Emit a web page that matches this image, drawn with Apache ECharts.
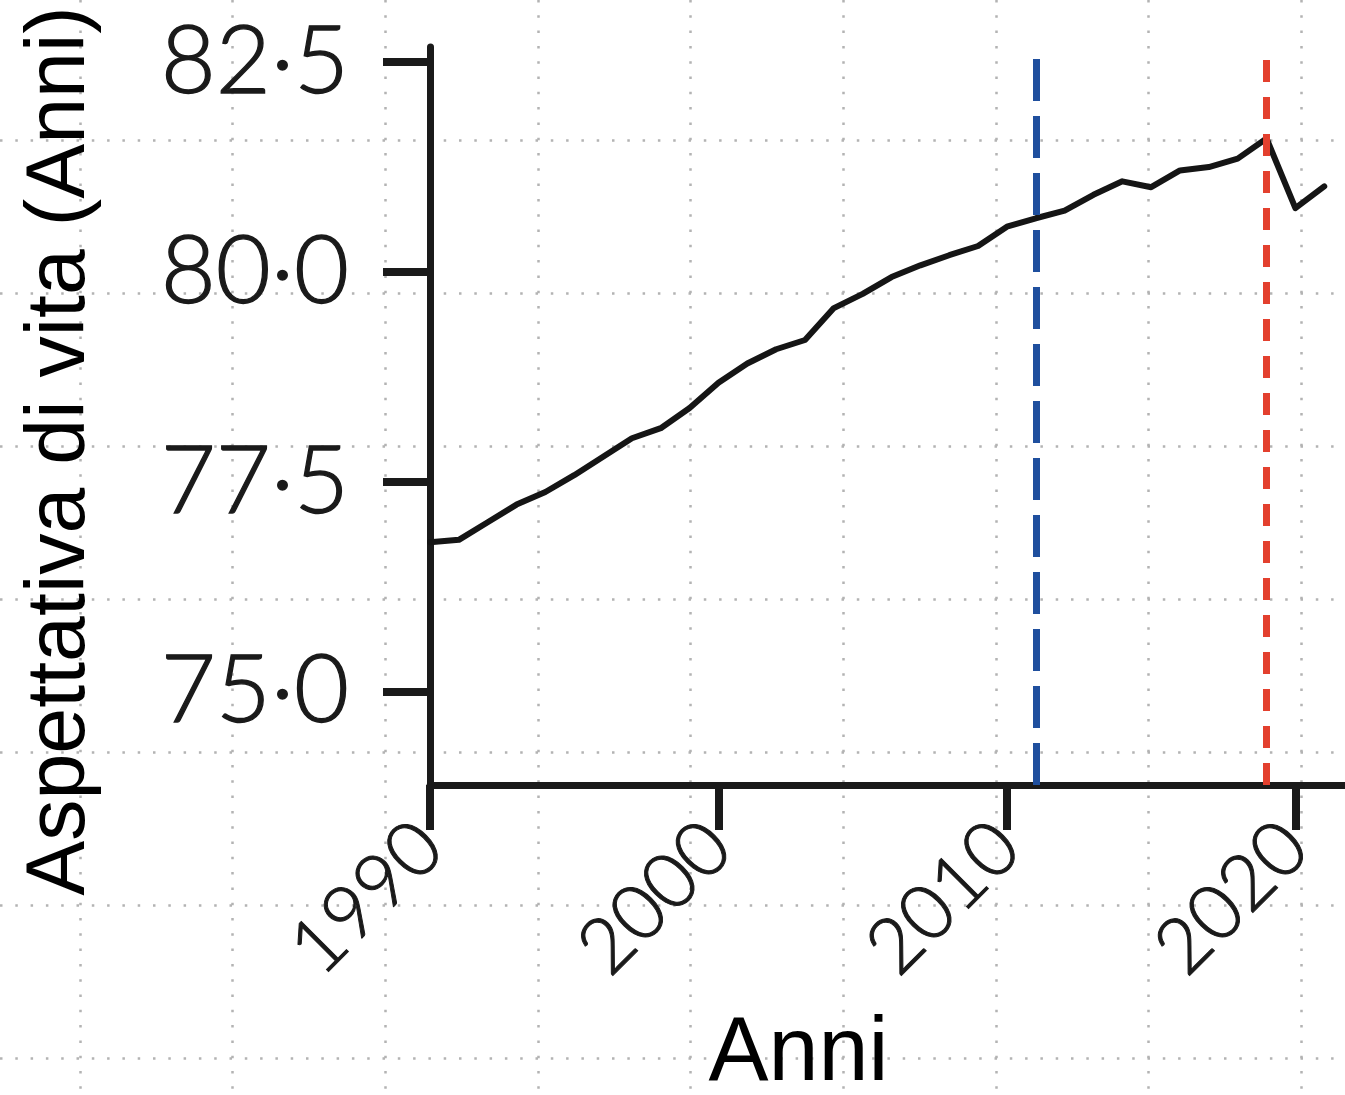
<!DOCTYPE html>
<html>
<head>
<meta charset="utf-8">
<script src="https://cdn.jsdelivr.net/npm/echarts@6/dist/echarts.min.js"></script>
<style>
  html, body { margin: 0; padding: 0; background: #ffffff; }
  #chart { width: 1345px; height: 1095px; }
</style>
</head>
<body>
<div id="chart"></div>
<script>
// Data
const years = [1990, 1991, 1992, 1993, 1994, 1995, 1996, 1997, 1998, 1999,
               2000, 2001, 2002, 2003, 2004, 2005, 2006, 2007, 2008, 2009,
               2010, 2011, 2012, 2013, 2014, 2015, 2016, 2017, 2018, 2019,
               2020, 2021];
const lifeExpectancy = [76.78, 76.81, 77.02, 77.23, 77.38, 77.58, 77.80, 78.02, 78.14, 78.38,
                        78.68, 78.91, 79.08, 79.19, 79.57, 79.74, 79.94, 80.08, 80.20, 80.31,
                        80.54, 80.64, 80.73, 80.92, 81.08, 81.01, 81.21, 81.25, 81.35, 81.59,
                        80.76, 81.02];
const xTicks = [1990, 2000, 2010, 2020];
const yTicks = [75, 77.5, 80, 82.5];
const blueLineYear = 2011;
const redLineYear = 2019;
const xTitle = 'Anni';
const yTitle = 'Aspettativa di vita (Anni)';

const chart = echarts.init(document.getElementById('chart'), null, { renderer: 'canvas' });

const dotted = { color: '#b3b3b3', width: 2.5, type: [2.5, 12.8] };
const hidden = { axisLine: { show: false }, axisTick: { show: false }, axisLabel: { show: false } };
const ink = '#1a1a1a';

const option = {
  backgroundColor: '#ffffff',
  animation: false,
  grid: [
    { left: 430, top: 47, right: 0, bottom: 310, containLabel: false, outerBoundsMode: 'none' },
    // background dotted overlay: vertical lines
    { left: 80, right: 44, top: 0, bottom: 0, containLabel: false, outerBoundsMode: 'none' },
    // background dotted overlay: horizontal lines
    { left: 0, right: 0, top: 140, bottom: 37, containLabel: false, outerBoundsMode: 'none' }
  ],
  xAxis: [
    {
      type: 'value', gridIndex: 0,
      min: 1990, max: 2021.72,
      name: xTitle, nameLocation: 'middle', nameGap: 225,
      nameTextStyle: { fontFamily: 'Liberation Sans', fontSize: 90, color: '#000', padding: [0, 178, 0, 0] },
      axisLine: { show: true, lineStyle: { color: ink, width: 7 } },
      axisTick: { show: true, length: 45, lineStyle: { color: ink, width: 8 }, customValues: xTicks },
      axisLabel: {
        show: true, rotate: 45, margin: 50, fontFamily: 'Lato', fontWeight: 300, fontSize: 77, color: ink,
        textBorderColor: ink, textBorderWidth: 1,
        customValues: xTicks, formatter: v => String(v)
      },
      splitLine: { show: false }
    },
    Object.assign({ type: 'value', gridIndex: 1, min: 0, max: 8, interval: 1,
      splitLine: { show: true, lineStyle: dotted } }, hidden),
    Object.assign({ type: 'value', gridIndex: 2, min: 0, max: 1, interval: 1,
      splitLine: { show: false } }, hidden)
  ],
  yAxis: [
    {
      type: 'value', gridIndex: 0,
      min: 73.89, max: 82.68,
      name: yTitle, nameLocation: 'middle', nameGap: 327,
      nameTextStyle: { fontFamily: 'Liberation Sans', fontSize: 82.5, color: '#000', padding: [0, 70, 0, 0] },
      axisLine: { show: true, lineStyle: { color: ink, width: 7 } },
      axisTick: { show: true, length: 47, lineStyle: { color: ink, width: 8 }, customValues: yTicks },
      axisLabel: {
        show: true, margin: 81, fontFamily: 'Lato', fontWeight: 300, fontSize: 95, color: ink,
        textBorderColor: ink, textBorderWidth: 1.3,
        customValues: yTicks,
        formatter: v => v.toFixed(1).replace('.', '\u00B7')
      },
      splitLine: { show: false }
    },
    Object.assign({ type: 'value', gridIndex: 1, min: 0, max: 1, interval: 1,
      splitLine: { show: false } }, hidden),
    Object.assign({ type: 'value', gridIndex: 2, min: 0, max: 6, interval: 1,
      splitLine: { show: true, lineStyle: dotted } }, hidden)
  ],
  series: [
    { type: 'line', xAxisIndex: 1, yAxisIndex: 1, data: [], silent: true },
    { type: 'line', xAxisIndex: 2, yAxisIndex: 2, data: [], silent: true },
    {
      type: 'line', xAxisIndex: 0, yAxisIndex: 0,
      data: years.map((y, i) => [y, lifeExpectancy[i]]),
      showSymbol: false, symbol: 'none',
      lineStyle: { color: '#151515', width: 6, cap: 'round', join: 'round' },
      z: 3,
      markLine: {
        silent: true, symbol: 'none', label: { show: false },
        data: [
          { xAxis: blueLineYear, lineStyle: { color: '#1f4f9e', width: 7, type: [42, 15] } },
          { xAxis: redLineYear, lineStyle: { color: '#e3402e', width: 7, type: [22, 15] } }
        ]
      }
    }
  ]
};

chart.setOption(option);
</script>
</body>
</html>
